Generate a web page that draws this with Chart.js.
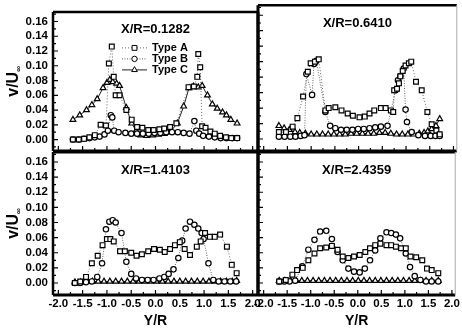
<!DOCTYPE html>
<html>
<head>
<meta charset="utf-8">
<script src="https://cdn.jsdelivr.net/npm/chart.js@4.4.1/dist/chart.umd.min.js"></script>
<style>
  html, body { margin: 0; padding: 0; background: #fff; }
  #wrap { position: relative; width: 462px; height: 331px; }
  #wrap canvas { position: absolute; left: 0; top: 0; }
</style>
</head>
<body>
<div id="wrap">
  <canvas id="p1" width="462" height="331"></canvas>
  <canvas id="p2" width="462" height="331"></canvas>
  <canvas id="p3" width="462" height="331"></canvas>
  <canvas id="p4" width="462" height="331"></canvas>
</div>
<script>
// series names and panel titles
const seriesNames = ["Type A", "Type B", "Type C"];
const panelTitles = ["X/R=0.1282", "X/R=0.6410", "X/R=1.4103", "X/R=2.4359"];
const yTitle = "v/U";
const ySub = "\u221e";
const xTitle = "Y/R";

// panel 1 : X/R=0.1282
const p1xA = [-1.70,-1.58,-1.47,-1.36,-1.25,-1.13,-1.02,-0.96,-0.90,-0.86,-0.82,-0.74,-0.60,-0.49,-0.38,-0.27,-0.15,-0.04,0.08,0.18,0.30,0.43,0.68,0.79,0.86,0.88,0.92,0.96,1.03,1.13,1.22,1.33,1.45,1.56,1.68];
const p1yA = [0.000,0.000,0.001,0.003,0.006,0.020,0.019,0.103,0.126,0.085,0.060,0.060,0.040,0.027,0.017,0.016,0.013,0.013,0.014,0.015,0.017,0.022,0.071,0.072,0.085,0.116,0.098,0.018,0.016,0.011,0.008,0.005,0.003,0.002,0.002];
const p1xB = [-1.70,-1.58,-1.47,-1.36,-1.25,-1.15,-1.05,-0.98,-0.92,-0.89,-0.85,-0.76,-0.62,-0.50,-0.38,-0.26,-0.14,-0.02,0.10,0.22,0.34,0.46,0.58,0.70,0.80,0.84,0.90,0.98,1.10,1.22,1.34,1.46,1.58,1.68];
const p1yB = [0.000,0.000,0.001,0.002,0.003,0.004,0.007,0.012,0.033,0.030,0.012,0.010,0.009,0.008,0.008,0.008,0.008,0.009,0.009,0.010,0.010,0.010,0.009,0.008,0.025,0.012,0.008,0.005,0.004,0.003,0.002,0.002,0.002,0.002];
const p1xC = [-1.70,-1.56,-1.42,-1.31,-1.20,-1.08,-1.00,-0.94,-0.88,-0.80,-0.74,-0.60,-0.49,-0.40,-0.30,-0.18,-0.06,0.06,0.18,0.30,0.45,0.58,0.69,0.78,0.88,0.96,1.07,1.17,1.27,1.38,1.46,1.55,1.68];
const p1yC = [0.027,0.033,0.040,0.047,0.055,0.070,0.077,0.081,0.078,0.076,0.073,0.043,0.022,0.012,0.006,0.005,0.006,0.007,0.008,0.010,0.022,0.045,0.070,0.072,0.071,0.073,0.060,0.048,0.042,0.037,0.033,0.027,0.022];

// panel 2 : X/R=0.6410
const p2xA = [-1.68,-1.53,-1.39,-1.29,-1.17,-1.07,-1.01,-0.92,-0.84,-0.70,-0.63,-0.49,-0.36,-0.23,-0.12,0.02,0.13,0.23,0.33,0.47,0.57,0.68,0.73,0.75,0.81,0.85,0.88,0.93,0.99,1.06,1.11,1.21,1.33,1.45,1.54,1.64,1.71];
const p2yA = [0.009,0.009,0.016,0.027,0.055,0.087,0.098,0.100,0.103,0.037,0.040,0.041,0.037,0.033,0.030,0.028,0.029,0.033,0.037,0.040,0.040,0.037,0.035,0.063,0.065,0.072,0.081,0.088,0.095,0.098,0.100,0.074,0.063,0.035,0.019,0.011,0.006];
const p2xB = [-1.68,-1.56,-1.44,-1.33,-1.22,-1.14,-1.10,-0.98,-0.94,-0.89,-0.70,-0.60,-0.49,-0.37,-0.25,-0.13,-0.01,0.11,0.23,0.35,0.47,0.61,0.78,0.83,0.88,0.95,0.99,1.02,1.12,1.26,1.40,1.52,1.62,1.71];
const p2yB = [0.003,0.003,0.003,0.003,0.004,0.005,0.084,0.057,0.097,0.101,0.035,0.017,0.014,0.012,0.012,0.012,0.013,0.013,0.014,0.015,0.016,0.017,0.063,0.076,0.081,0.091,0.038,0.022,0.009,0.005,0.004,0.004,0.004,0.004];
const p2xC = [-1.68,-1.57,-1.46,-1.34,-1.24,-1.12,-1.00,-0.88,-0.76,-0.64,-0.52,-0.40,-0.28,-0.16,-0.04,0.08,0.20,0.32,0.44,0.56,0.68,0.80,0.92,1.04,1.16,1.28,1.38,1.46,1.54,1.63,1.71];
const p2yC = [0.017,0.014,0.012,0.009,0.008,0.007,0.006,0.006,0.006,0.006,0.006,0.006,0.006,0.007,0.007,0.007,0.007,0.007,0.008,0.008,0.007,0.006,0.006,0.006,0.006,0.007,0.008,0.010,0.013,0.017,0.026];

// panel 3 : X/R=1.4103
const p3xA = [-1.66,-1.55,-1.43,-1.31,-1.19,-1.09,-1.00,-0.93,-0.86,-0.73,-0.63,-0.50,-0.39,-0.28,-0.15,-0.03,0.09,0.19,0.30,0.40,0.50,0.60,0.71,0.85,0.93,1.02,1.12,1.22,1.33,1.47,1.57,1.67];
const p3yA = [0.000,0.002,0.008,0.026,0.036,0.050,0.058,0.058,0.055,0.042,0.042,0.040,0.036,0.038,0.042,0.045,0.044,0.041,0.045,0.050,0.054,0.045,0.037,0.048,0.055,0.066,0.061,0.061,0.064,0.048,0.024,0.013];
const p3xB = [-1.66,-1.55,-1.43,-1.31,-1.20,-1.10,-1.02,-0.95,-0.88,-0.82,-0.70,-0.60,-0.50,-0.40,-0.28,-0.16,-0.04,0.08,0.18,0.27,0.37,0.47,0.55,0.62,0.71,0.80,0.88,0.95,0.99,1.09,1.19,1.30,1.42,1.54,1.66];
const p3yB = [0.000,0.000,0.001,0.002,0.008,0.026,0.071,0.081,0.083,0.080,0.066,0.028,0.012,0.006,0.004,0.004,0.004,0.006,0.008,0.012,0.018,0.033,0.056,0.072,0.081,0.077,0.072,0.066,0.058,0.026,0.004,0.002,0.002,0.002,0.002];
const p3xC = [-1.66,-1.54,-1.42,-1.30,-1.18,-1.06,-0.94,-0.82,-0.70,-0.58,-0.46,-0.34,-0.22,-0.10,0.02,0.14,0.26,0.38,0.50,0.62,0.74,0.86,0.98,1.10,1.22,1.34,1.46,1.58,1.67];
const p3yC = [0.001,0.001,0.002,0.002,0.002,0.002,0.002,0.002,0.002,0.002,0.002,0.002,0.002,0.002,0.002,0.002,0.002,0.002,0.002,0.002,0.002,0.002,0.002,0.002,0.002,0.002,0.002,0.002,0.003];

// panel 4 : X/R=2.4359
const p4xA = [-1.67,-1.53,-1.39,-1.29,-1.17,-1.05,-0.92,-0.80,-0.67,-0.55,-0.43,-0.32,-0.20,-0.08,0.04,0.16,0.26,0.37,0.48,0.61,0.71,0.81,0.92,1.02,1.12,1.24,1.37,1.47,1.57,1.71];
const p4yA = [0.002,0.004,0.011,0.017,0.020,0.030,0.039,0.046,0.047,0.049,0.044,0.035,0.033,0.035,0.037,0.041,0.046,0.050,0.052,0.050,0.050,0.048,0.046,0.046,0.035,0.034,0.030,0.019,0.017,0.013];
const p4xB = [-1.67,-1.56,-1.45,-1.33,-1.18,-1.05,-0.92,-0.80,-0.67,-0.55,-0.43,-0.32,-0.20,-0.08,0.04,0.15,0.26,0.37,0.48,0.61,0.71,0.81,0.90,1.02,1.11,1.21,1.33,1.45,1.57,1.71];
const p4yB = [0.002,0.002,0.002,0.003,0.022,0.044,0.057,0.068,0.069,0.058,0.041,0.030,0.019,0.015,0.014,0.019,0.030,0.043,0.059,0.067,0.066,0.064,0.059,0.039,0.021,0.009,0.004,0.002,0.002,0.002];
const p4xC = [-1.67,-1.55,-1.43,-1.31,-1.19,-1.07,-0.95,-0.83,-0.71,-0.59,-0.47,-0.35,-0.23,-0.11,0.01,0.13,0.25,0.37,0.49,0.61,0.73,0.85,0.97,1.09,1.21,1.33,1.45,1.57,1.71];
const p4yC = [0.003,0.003,0.003,0.003,0.003,0.003,0.003,0.003,0.003,0.003,0.003,0.003,0.003,0.003,0.003,0.003,0.003,0.003,0.003,0.003,0.003,0.003,0.003,0.003,0.003,0.003,0.003,0.003,0.003];

const FONT = "'Liberation Sans', Arial, sans-serif";
Chart.defaults.font.family = FONT;
Chart.defaults.color = "#000";

const pts = (xs, ys) => xs.map((x, i) => ({ x: x, y: ys[i] }));
const fmt = (v, d) => (Math.abs(v) < 1e-9 ? 0 : v).toFixed(d);

const styles = [
  { pointStyle: "rect", pointRadius: 3.4, borderColor: "#666", borderDash: [1, 2] },
  { pointStyle: "circle", pointRadius: 2.7, borderColor: "#666", borderDash: [1, 1.5] },
  { pointStyle: "triangle", pointRadius: 3.3, borderColor: "#222", borderDash: [] }
];

// frame, inward ticks, titles and legend
const panelDeco = {
  id: "panelDeco",
  afterDatasetsDraw(chart, args, o) {
    const { ctx, chartArea: a, scales: { x, y } } = chart;
    ctx.save();
    ctx.strokeStyle = "#000";
    ctx.lineWidth = 1.2;
    ctx.beginPath();
    y.ticks.forEach(t => {
      const p = y.getPixelForValue(t.value);
      ctx.moveTo(a.left, p); ctx.lineTo(a.left + 5, p);
      [t.value - 0.01, t.value + 0.01].forEach(m => {
        const q = y.getPixelForValue(m);
        if (q > a.top + 2 && q < a.bottom - 2) { ctx.moveTo(a.left, q); ctx.lineTo(a.left + 3, q); }
      });
    });
    x.ticks.forEach(t => {
      const p = x.getPixelForValue(t.value);
      ctx.moveTo(p, a.bottom); ctx.lineTo(p, a.bottom - 5);
      [t.value - 0.25, t.value + 0.25].forEach(m => {
        const q = x.getPixelForValue(m);
        if (q > a.left + 2 && q < a.right - 2) { ctx.moveTo(q, a.bottom); ctx.lineTo(q, a.bottom - 3); }
      });
    });
    ctx.stroke();

    // frame
    const f = o.frame;
    const line = (x1, y1, x2, y2, w, c) => {
      ctx.beginPath(); ctx.lineWidth = w; ctx.strokeStyle = c;
      ctx.moveTo(x1, y1); ctx.lineTo(x2, y2); ctx.stroke();
    };
    line(a.left, a.top, a.left, a.bottom, f.left, "#000");
    line(a.left, a.bottom, a.right, a.bottom, f.bottom, "#000");
    line(a.left, a.top, a.right, a.top, f.top, "#000");
    line(a.right, a.top, a.right, a.bottom, f.right, f.rightColor);

    // panel title
    ctx.fillStyle = "#000";
    ctx.font = "bold 13px " + FONT;
    ctx.textAlign = "center";
    ctx.textBaseline = "middle";
    ctx.fillText(o.title, (a.left + a.right) / 2, a.top + 18);

    // y title with subscript
    if (o.yTitle) {
      ctx.save();
      ctx.translate(14, (a.top + a.bottom) / 2);
      ctx.rotate(-Math.PI / 2);
      ctx.font = "bold 16px " + FONT;
      const w1 = ctx.measureText(yTitle).width;
      ctx.font = "bold 8px " + FONT;
      const w2 = ctx.measureText(ySub).width;
      const s = -(w1 + w2) / 2;
      ctx.textAlign = "left";
      ctx.font = "bold 16px " + FONT;
      ctx.fillText(yTitle, s, 0);
      ctx.font = "bold 8px " + FONT;
      ctx.fillText(ySub, s + w1, 5);
      ctx.restore();
    }

    // x title
    if (o.xTitle) {
      ctx.font = "bold 14px " + FONT;
      ctx.textAlign = "center";
      ctx.fillText(xTitle, (a.left + a.right) / 2, a.bottom + 26);
    }

    // legend
    if (o.legend) {
      chart.data.datasets.forEach((ds, i) => {
        const ly = a.top + 36 + i * 11;
        const lx = a.left + 69;
        ctx.beginPath();
        ctx.lineWidth = 1;
        ctx.strokeStyle = ds.borderColor;
        ctx.setLineDash(ds.borderDash);
        ctx.moveTo(lx, ly); ctx.lineTo(lx + 25, ly);
        ctx.stroke();
        ctx.setLineDash([]);
        ctx.fillStyle = "#fff";
        ctx.strokeStyle = "#000";
        Chart.helpers.drawPoint(ctx, { pointStyle: ds.pointStyle, radius: ds.pointRadius, rotation: 0, borderWidth: 1.2 }, lx + 12.5, ly);
        ctx.fillStyle = "#000";
        ctx.font = "bold 11px " + FONT;
        ctx.textAlign = "left";
        ctx.fillText(ds.label, lx + 30, ly);
      });
    }
    ctx.restore();
  }
};

function panel(id, c) {
  const series = [[c.xA, c.yA], [c.xB, c.yB], [c.xC, c.yC]];
  const datasets = series.map((s, i) => Object.assign({
    label: seriesNames[i],
    data: pts(s[0], s[1]),
    showLine: true,
    borderWidth: 1,
    pointBorderColor: "#000",
    pointBackgroundColor: "#fff",
    pointBorderWidth: 1.2
  }, styles[i]));
  const tickFont = { family: FONT, size: 11.5, weight: "bold" };
  return new Chart(document.getElementById(id), {
    type: "scatter",
    data: { datasets: datasets },
    options: {
      responsive: false,
      animation: false,
      devicePixelRatio: 1,
      events: [],
      layout: { padding: c.pad },
      plugins: {
        legend: { display: false },
        tooltip: { enabled: false },
        panelDeco: { title: c.title, frame: c.frame, legend: c.legend, yTitle: c.left, xTitle: c.bottom }
      },
      scales: {
        x: {
          type: "linear", min: c.xMin, max: c.xMax,
          grid: { display: false, drawTicks: false },
          border: { display: false },
          ticks: { display: c.bottom, stepSize: 0.5, autoSkip: false, maxRotation: 0, includeBounds: false,
                   padding: 2, font: tickFont, callback: v => fmt(v, 1) },
          afterFit: s => { s.height = c.bottom ? 36 : 0; }
        },
        y: {
          type: "linear", min: c.yMin, max: c.yMax,
          grid: { display: false, drawTicks: false },
          border: { display: false },
          ticks: { display: c.left, stepSize: 0.02, autoSkip: false, includeBounds: false,
                   padding: 5, font: tickFont, callback: v => fmt(v, 2) },
          afterFit: s => { s.width = c.left ? 53 : 0; }
        }
      }
    },
    plugins: [panelDeco]
  });
}

panel("p1", {
  title: panelTitles[0], xA: p1xA, yA: p1yA, xB: p1xB, yB: p1yB, xC: p1xC, yC: p1yC,
  pad: { left: 0, top: 5, right: 204, bottom: 180 }, left: true, bottom: false, legend: true,
  xMin: -2.11, xMax: 2.11, yMin: -0.0155, yMax: 0.173,
  frame: { left: 2.5, top: 2.5, bottom: 3, right: 3, rightColor: "#000" }
});
panel("p2", {
  title: panelTitles[1], xA: p2xA, yA: p2yA, xB: p2xB, yB: p2yB, xC: p2xC, yC: p2yC,
  pad: { left: 258, top: 5, right: 1, bottom: 180 }, left: false, bottom: false, legend: false,
  xMin: -2.12, xMax: 2.07, yMin: -0.0155, yMax: 0.173,
  frame: { left: 3, top: 2.5, bottom: 3, right: 1, rightColor: "#aaa" }
});
panel("p3", {
  title: panelTitles[2], xA: p3xA, yA: p3yA, xB: p3xB, yB: p3yB, xC: p3xC, yC: p3yC,
  pad: { left: 0, top: 152, right: 204, bottom: 0 }, left: true, bottom: true, legend: false,
  xMin: -2.11, xMax: 2.11, yMin: -0.0159, yMax: 0.1732,
  frame: { left: 2.5, top: 3, bottom: 3, right: 3, rightColor: "#000" }
});
panel("p4", {
  title: panelTitles[3], xA: p4xA, yA: p4yA, xB: p4xB, yB: p4yB, xC: p4xC, yC: p4yC,
  pad: { left: 258, top: 152, right: 1, bottom: 0 }, left: false, bottom: true, legend: false,
  xMin: -2.12, xMax: 2.07, yMin: -0.0159, yMax: 0.1732,
  frame: { left: 3, top: 3, bottom: 3, right: 1, rightColor: "#aaa" }
});
</script>
</body>
</html>
